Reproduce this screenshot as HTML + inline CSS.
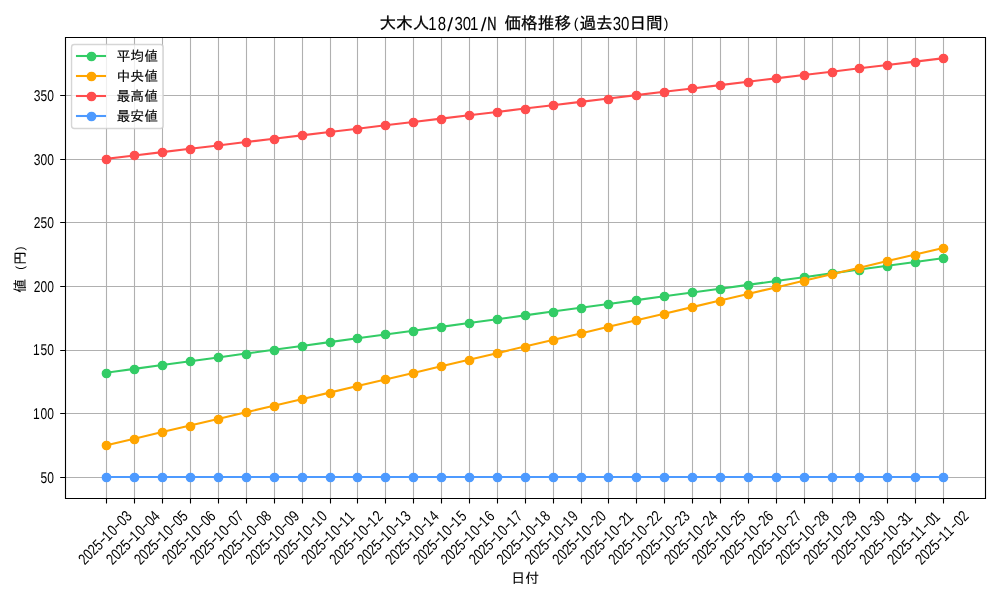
<!DOCTYPE html>
<html lang="ja"><head><meta charset="utf-8">
<title>大木人18/301/N 価格推移(過去30日間)</title>
<style>
html,body{margin:0;padding:0;background:#fff}
body{width:1000px;height:600px;overflow:hidden}
svg{display:block;will-change:transform}
text{fill:#000;white-space:pre}
.j{font-family:"Liberation Sans","IPAGothic",sans-serif;stroke:#000;stroke-width:0.12}
.n{font-family:"Liberation Sans",sans-serif;stroke:none;text-rendering:geometricPrecision}
.nb{font-family:"Liberation Sans",sans-serif;stroke:#000;stroke-width:0.35;text-rendering:geometricPrecision}
.grid path{stroke:#b0b0b0;stroke-width:1.11;fill:none}
.ax path,.ax rect{stroke:#000;stroke-width:1.11;fill:none}
.ln{fill:none;stroke-width:2.08;stroke-linejoin:round;stroke-linecap:square}
.mk circle{stroke-width:1.39}
</style></head><body>
<svg width="1000" height="600" viewBox="0 0 1000 600">
<rect width="1000" height="600" fill="#fff"/>
<g class="grid"><path d="M106.5 37.34V498M134.5 37.34V498M162.5 37.34V498M190.5 37.34V498M218.5 37.34V498M246.5 37.34V498M274.5 37.34V498M302.5 37.34V498M330.5 37.34V498M357.5 37.34V498M385.5 37.34V498M413.5 37.34V498M441.5 37.34V498M469.5 37.34V498M497.5 37.34V498M525.5 37.34V498M553.5 37.34V498M581.5 37.34V498M608.5 37.34V498M636.5 37.34V498M664.5 37.34V498M692.5 37.34V498M720.5 37.34V498M748.5 37.34V498M776.5 37.34V498M804.5 37.34V498M832.5 37.34V498M859.5 37.34V498M887.5 37.34V498M915.5 37.34V498M943.5 37.34V498M64.6 477.5H985M64.6 413.5H985M64.6 350.5H985M64.6 286.5H985M64.6 222.5H985M64.6 159.5H985M64.6 95.5H985"/></g>
<polyline class="ln" stroke="#33cc66" points="106.44,372.68 134.33,368.86 162.22,365.05 190.11,361.23 218,357.41 245.89,353.59 273.78,349.77 301.67,345.95 329.56,342.13 357.45,338.31 385.35,334.5 413.24,330.68 441.13,326.86 469.02,323.04 496.91,319.22 524.8,315.4 552.69,311.58 580.58,307.77 608.47,303.95 636.36,300.13 664.25,296.31 692.15,292.49 720.04,288.67 747.93,284.85 775.82,281.04 803.71,277.22 831.6,273.4 859.49,269.58 887.38,265.76 915.27,261.94 943.16,258.12"/>
<g class="mk" fill="#33cc66" stroke="#33cc66"><circle cx="106.5" cy="373.5" r="4.17"/><circle cx="134.5" cy="369.5" r="4.17"/><circle cx="162.5" cy="365.5" r="4.17"/><circle cx="190.5" cy="361.5" r="4.17"/><circle cx="218.5" cy="357.5" r="4.17"/><circle cx="246.5" cy="354.5" r="4.17"/><circle cx="274.5" cy="350.5" r="4.17"/><circle cx="302.5" cy="346.5" r="4.17"/><circle cx="330.5" cy="342.5" r="4.17"/><circle cx="357.5" cy="338.5" r="4.17"/><circle cx="385.5" cy="334.5" r="4.17"/><circle cx="413.5" cy="331.5" r="4.17"/><circle cx="441.5" cy="327.5" r="4.17"/><circle cx="469.5" cy="323.5" r="4.17"/><circle cx="497.5" cy="319.5" r="4.17"/><circle cx="525.5" cy="315.5" r="4.17"/><circle cx="553.5" cy="312.5" r="4.17"/><circle cx="581.5" cy="308.5" r="4.17"/><circle cx="608.5" cy="304.5" r="4.17"/><circle cx="636.5" cy="300.5" r="4.17"/><circle cx="664.5" cy="296.5" r="4.17"/><circle cx="692.5" cy="292.5" r="4.17"/><circle cx="720.5" cy="289.5" r="4.17"/><circle cx="748.5" cy="285.5" r="4.17"/><circle cx="776.5" cy="281.5" r="4.17"/><circle cx="804.5" cy="277.5" r="4.17"/><circle cx="832.5" cy="273.5" r="4.17"/><circle cx="859.5" cy="270.5" r="4.17"/><circle cx="887.5" cy="266.5" r="4.17"/><circle cx="915.5" cy="262.5" r="4.17"/><circle cx="943.5" cy="258.5" r="4.17"/></g>
<polyline class="ln" stroke="#ffa500" points="106.44,445.24 134.33,438.66 162.22,432.08 190.11,425.51 218,418.93 245.89,412.35 273.78,405.78 301.67,399.2 329.56,392.62 357.45,386.05 385.35,379.47 413.24,372.89 441.13,366.32 469.02,359.74 496.91,353.16 524.8,346.59 552.69,340.01 580.58,333.44 608.47,326.86 636.36,320.28 664.25,313.71 692.15,307.13 720.04,300.55 747.93,293.98 775.82,287.4 803.71,280.82 831.6,274.25 859.49,267.67 887.38,261.09 915.27,254.52 943.16,247.94"/>
<g class="mk" fill="#ffa500" stroke="#ffa500"><circle cx="106.5" cy="445.5" r="4.17"/><circle cx="134.5" cy="439.5" r="4.17"/><circle cx="162.5" cy="432.5" r="4.17"/><circle cx="190.5" cy="426.5" r="4.17"/><circle cx="218.5" cy="419.5" r="4.17"/><circle cx="246.5" cy="412.5" r="4.17"/><circle cx="274.5" cy="406.5" r="4.17"/><circle cx="302.5" cy="399.5" r="4.17"/><circle cx="330.5" cy="393.5" r="4.17"/><circle cx="357.5" cy="386.5" r="4.17"/><circle cx="385.5" cy="379.5" r="4.17"/><circle cx="413.5" cy="373.5" r="4.17"/><circle cx="441.5" cy="366.5" r="4.17"/><circle cx="469.5" cy="360.5" r="4.17"/><circle cx="497.5" cy="353.5" r="4.17"/><circle cx="525.5" cy="347.5" r="4.17"/><circle cx="553.5" cy="340.5" r="4.17"/><circle cx="581.5" cy="333.5" r="4.17"/><circle cx="608.5" cy="327.5" r="4.17"/><circle cx="636.5" cy="320.5" r="4.17"/><circle cx="664.5" cy="314.5" r="4.17"/><circle cx="692.5" cy="307.5" r="4.17"/><circle cx="720.5" cy="301.5" r="4.17"/><circle cx="748.5" cy="294.5" r="4.17"/><circle cx="776.5" cy="287.5" r="4.17"/><circle cx="804.5" cy="281.5" r="4.17"/><circle cx="832.5" cy="274.5" r="4.17"/><circle cx="859.5" cy="268.5" r="4.17"/><circle cx="887.5" cy="261.5" r="4.17"/><circle cx="915.5" cy="255.5" r="4.17"/><circle cx="943.5" cy="248.5" r="4.17"/></g>
<polyline class="ln" stroke="#ff4d4d" points="106.44,158.84 134.33,155.49 162.22,152.14 190.11,148.78 218,145.43 245.89,142.08 273.78,138.73 301.67,135.38 329.56,132.02 357.45,128.67 385.35,125.32 413.24,121.97 441.13,118.62 469.02,115.26 496.91,111.91 524.8,108.56 552.69,105.21 580.58,101.86 608.47,98.5 636.36,95.15 664.25,91.8 692.15,88.45 720.04,85.1 747.93,81.75 775.82,78.39 803.71,75.04 831.6,71.69 859.49,68.34 887.38,64.99 915.27,61.63 943.16,58.28"/>
<g class="mk" fill="#ff4d4d" stroke="#ff4d4d"><circle cx="106.5" cy="159.5" r="4.17"/><circle cx="134.5" cy="155.5" r="4.17"/><circle cx="162.5" cy="152.5" r="4.17"/><circle cx="190.5" cy="149.5" r="4.17"/><circle cx="218.5" cy="145.5" r="4.17"/><circle cx="246.5" cy="142.5" r="4.17"/><circle cx="274.5" cy="139.5" r="4.17"/><circle cx="302.5" cy="135.5" r="4.17"/><circle cx="330.5" cy="132.5" r="4.17"/><circle cx="357.5" cy="129.5" r="4.17"/><circle cx="385.5" cy="125.5" r="4.17"/><circle cx="413.5" cy="122.5" r="4.17"/><circle cx="441.5" cy="119.5" r="4.17"/><circle cx="469.5" cy="115.5" r="4.17"/><circle cx="497.5" cy="112.5" r="4.17"/><circle cx="525.5" cy="109.5" r="4.17"/><circle cx="553.5" cy="105.5" r="4.17"/><circle cx="581.5" cy="102.5" r="4.17"/><circle cx="608.5" cy="99.5" r="4.17"/><circle cx="636.5" cy="95.5" r="4.17"/><circle cx="664.5" cy="92.5" r="4.17"/><circle cx="692.5" cy="88.5" r="4.17"/><circle cx="720.5" cy="85.5" r="4.17"/><circle cx="748.5" cy="82.5" r="4.17"/><circle cx="776.5" cy="78.5" r="4.17"/><circle cx="804.5" cy="75.5" r="4.17"/><circle cx="832.5" cy="72.5" r="4.17"/><circle cx="859.5" cy="68.5" r="4.17"/><circle cx="887.5" cy="65.5" r="4.17"/><circle cx="915.5" cy="62.5" r="4.17"/><circle cx="943.5" cy="58.5" r="4.17"/></g>
<polyline class="ln" stroke="#4d9aff" points="106,477 134,477 162,477 190,477 218,477 246,477 274,477 302,477 330,477 357,477 385,477 413,477 441,477 469,477 497,477 525,477 553,477 581,477 608,477 636,477 664,477 692,477 720,477 748,477 776,477 804,477 832,477 859,477 887,477 915,477 943,477"/>
<g class="mk" fill="#4d9aff" stroke="#4d9aff"><circle cx="106.5" cy="477.5" r="4.17"/><circle cx="134.5" cy="477.5" r="4.17"/><circle cx="162.5" cy="477.5" r="4.17"/><circle cx="190.5" cy="477.5" r="4.17"/><circle cx="218.5" cy="477.5" r="4.17"/><circle cx="246.5" cy="477.5" r="4.17"/><circle cx="274.5" cy="477.5" r="4.17"/><circle cx="302.5" cy="477.5" r="4.17"/><circle cx="330.5" cy="477.5" r="4.17"/><circle cx="357.5" cy="477.5" r="4.17"/><circle cx="385.5" cy="477.5" r="4.17"/><circle cx="413.5" cy="477.5" r="4.17"/><circle cx="441.5" cy="477.5" r="4.17"/><circle cx="469.5" cy="477.5" r="4.17"/><circle cx="497.5" cy="477.5" r="4.17"/><circle cx="525.5" cy="477.5" r="4.17"/><circle cx="553.5" cy="477.5" r="4.17"/><circle cx="581.5" cy="477.5" r="4.17"/><circle cx="608.5" cy="477.5" r="4.17"/><circle cx="636.5" cy="477.5" r="4.17"/><circle cx="664.5" cy="477.5" r="4.17"/><circle cx="692.5" cy="477.5" r="4.17"/><circle cx="720.5" cy="477.5" r="4.17"/><circle cx="748.5" cy="477.5" r="4.17"/><circle cx="776.5" cy="477.5" r="4.17"/><circle cx="804.5" cy="477.5" r="4.17"/><circle cx="832.5" cy="477.5" r="4.17"/><circle cx="859.5" cy="477.5" r="4.17"/><circle cx="887.5" cy="477.5" r="4.17"/><circle cx="915.5" cy="477.5" r="4.17"/><circle cx="943.5" cy="477.5" r="4.17"/></g>
<g class="ax"><path d="M106.5 498.5v5.1M134.5 498.5v5.1M162.5 498.5v5.1M190.5 498.5v5.1M218.5 498.5v5.1M246.5 498.5v5.1M274.5 498.5v5.1M302.5 498.5v5.1M330.5 498.5v5.1M357.5 498.5v5.1M385.5 498.5v5.1M413.5 498.5v5.1M441.5 498.5v5.1M469.5 498.5v5.1M497.5 498.5v5.1M525.5 498.5v5.1M553.5 498.5v5.1M581.5 498.5v5.1M608.5 498.5v5.1M636.5 498.5v5.1M664.5 498.5v5.1M692.5 498.5v5.1M720.5 498.5v5.1M748.5 498.5v5.1M776.5 498.5v5.1M804.5 498.5v5.1M832.5 498.5v5.1M859.5 498.5v5.1M887.5 498.5v5.1M915.5 498.5v5.1M943.5 498.5v5.1M65.5 477.5h-5.3M65.5 413.5h-5.3M65.5 350.5h-5.3M65.5 286.5h-5.3M65.5 222.5h-5.3M65.5 159.5h-5.3M65.5 95.5h-5.3"/>
<path stroke-linecap="square" d="M65.5 37.5H985.5V498.5H65.5Z"/></g>
<text class="n" font-size="15.69" y="482.76"><tspan x="40.45" textLength="13.4" lengthAdjust="spacingAndGlyphs">50</tspan></text>
<text class="n" font-size="15.69" y="419.11"><tspan x="32.88" textLength="6.7" lengthAdjust="spacingAndGlyphs">1</tspan><tspan x="40.45" textLength="13.4" lengthAdjust="spacingAndGlyphs">00</tspan></text>
<text class="n" font-size="15.69" y="355.47"><tspan x="32.88" textLength="6.7" lengthAdjust="spacingAndGlyphs">1</tspan><tspan x="40.45" textLength="13.4" lengthAdjust="spacingAndGlyphs">50</tspan></text>
<text class="n" font-size="15.69" y="291.83"><tspan x="33.75" textLength="20.1" lengthAdjust="spacingAndGlyphs">200</tspan></text>
<text class="n" font-size="15.69" y="228.18"><tspan x="33.75" textLength="20.1" lengthAdjust="spacingAndGlyphs">250</tspan></text>
<text class="n" font-size="15.69" y="164.54"><tspan x="33.75" textLength="20.1" lengthAdjust="spacingAndGlyphs">300</tspan></text>
<text class="n" font-size="15.69" y="100.9"><tspan x="33.75" textLength="20.1" lengthAdjust="spacingAndGlyphs">350</tspan></text>
<text class="n" font-size="15.69" transform="translate(105.14 537.6) rotate(-45)" y="5.2"><tspan x="-34.1" textLength="27.28" lengthAdjust="spacingAndGlyphs">2025</tspan><tspan x="-6.82" dy="-1" textLength="6.82" lengthAdjust="spacingAndGlyphs">-</tspan><tspan x="-0.89" dy="1" textLength="6.82" lengthAdjust="spacingAndGlyphs">1</tspan><tspan x="6.82" textLength="6.82" lengthAdjust="spacingAndGlyphs">0</tspan><tspan x="13.64" dy="-1" textLength="6.82" lengthAdjust="spacingAndGlyphs">-</tspan><tspan x="20.46" dy="1" textLength="13.64" lengthAdjust="spacingAndGlyphs">03</tspan></text>
<text class="n" font-size="15.69" transform="translate(133.03 537.6) rotate(-45)" y="5.2"><tspan x="-34.1" textLength="27.28" lengthAdjust="spacingAndGlyphs">2025</tspan><tspan x="-6.82" dy="-1" textLength="6.82" lengthAdjust="spacingAndGlyphs">-</tspan><tspan x="-0.89" dy="1" textLength="6.82" lengthAdjust="spacingAndGlyphs">1</tspan><tspan x="6.82" textLength="6.82" lengthAdjust="spacingAndGlyphs">0</tspan><tspan x="13.64" dy="-1" textLength="6.82" lengthAdjust="spacingAndGlyphs">-</tspan><tspan x="20.46" dy="1" textLength="13.64" lengthAdjust="spacingAndGlyphs">04</tspan></text>
<text class="n" font-size="15.69" transform="translate(160.92 537.6) rotate(-45)" y="5.2"><tspan x="-34.1" textLength="27.28" lengthAdjust="spacingAndGlyphs">2025</tspan><tspan x="-6.82" dy="-1" textLength="6.82" lengthAdjust="spacingAndGlyphs">-</tspan><tspan x="-0.89" dy="1" textLength="6.82" lengthAdjust="spacingAndGlyphs">1</tspan><tspan x="6.82" textLength="6.82" lengthAdjust="spacingAndGlyphs">0</tspan><tspan x="13.64" dy="-1" textLength="6.82" lengthAdjust="spacingAndGlyphs">-</tspan><tspan x="20.46" dy="1" textLength="13.64" lengthAdjust="spacingAndGlyphs">05</tspan></text>
<text class="n" font-size="15.69" transform="translate(188.81 537.6) rotate(-45)" y="5.2"><tspan x="-34.1" textLength="27.28" lengthAdjust="spacingAndGlyphs">2025</tspan><tspan x="-6.82" dy="-1" textLength="6.82" lengthAdjust="spacingAndGlyphs">-</tspan><tspan x="-0.89" dy="1" textLength="6.82" lengthAdjust="spacingAndGlyphs">1</tspan><tspan x="6.82" textLength="6.82" lengthAdjust="spacingAndGlyphs">0</tspan><tspan x="13.64" dy="-1" textLength="6.82" lengthAdjust="spacingAndGlyphs">-</tspan><tspan x="20.46" dy="1" textLength="13.64" lengthAdjust="spacingAndGlyphs">06</tspan></text>
<text class="n" font-size="15.69" transform="translate(216.7 537.6) rotate(-45)" y="5.2"><tspan x="-34.1" textLength="27.28" lengthAdjust="spacingAndGlyphs">2025</tspan><tspan x="-6.82" dy="-1" textLength="6.82" lengthAdjust="spacingAndGlyphs">-</tspan><tspan x="-0.89" dy="1" textLength="6.82" lengthAdjust="spacingAndGlyphs">1</tspan><tspan x="6.82" textLength="6.82" lengthAdjust="spacingAndGlyphs">0</tspan><tspan x="13.64" dy="-1" textLength="6.82" lengthAdjust="spacingAndGlyphs">-</tspan><tspan x="20.46" dy="1" textLength="13.64" lengthAdjust="spacingAndGlyphs">07</tspan></text>
<text class="n" font-size="15.69" transform="translate(244.59 537.6) rotate(-45)" y="5.2"><tspan x="-34.1" textLength="27.28" lengthAdjust="spacingAndGlyphs">2025</tspan><tspan x="-6.82" dy="-1" textLength="6.82" lengthAdjust="spacingAndGlyphs">-</tspan><tspan x="-0.89" dy="1" textLength="6.82" lengthAdjust="spacingAndGlyphs">1</tspan><tspan x="6.82" textLength="6.82" lengthAdjust="spacingAndGlyphs">0</tspan><tspan x="13.64" dy="-1" textLength="6.82" lengthAdjust="spacingAndGlyphs">-</tspan><tspan x="20.46" dy="1" textLength="13.64" lengthAdjust="spacingAndGlyphs">08</tspan></text>
<text class="n" font-size="15.69" transform="translate(272.48 537.6) rotate(-45)" y="5.2"><tspan x="-34.1" textLength="27.28" lengthAdjust="spacingAndGlyphs">2025</tspan><tspan x="-6.82" dy="-1" textLength="6.82" lengthAdjust="spacingAndGlyphs">-</tspan><tspan x="-0.89" dy="1" textLength="6.82" lengthAdjust="spacingAndGlyphs">1</tspan><tspan x="6.82" textLength="6.82" lengthAdjust="spacingAndGlyphs">0</tspan><tspan x="13.64" dy="-1" textLength="6.82" lengthAdjust="spacingAndGlyphs">-</tspan><tspan x="20.46" dy="1" textLength="13.64" lengthAdjust="spacingAndGlyphs">09</tspan></text>
<text class="n" font-size="15.69" transform="translate(300.37 537.6) rotate(-45)" y="5.2"><tspan x="-34.1" textLength="27.28" lengthAdjust="spacingAndGlyphs">2025</tspan><tspan x="-6.82" dy="-1" textLength="6.82" lengthAdjust="spacingAndGlyphs">-</tspan><tspan x="-0.89" dy="1" textLength="6.82" lengthAdjust="spacingAndGlyphs">1</tspan><tspan x="6.82" textLength="6.82" lengthAdjust="spacingAndGlyphs">0</tspan><tspan x="13.64" dy="-1" textLength="6.82" lengthAdjust="spacingAndGlyphs">-</tspan><tspan x="19.57" dy="1" textLength="6.82" lengthAdjust="spacingAndGlyphs">1</tspan><tspan x="27.28" textLength="6.82" lengthAdjust="spacingAndGlyphs">0</tspan></text>
<text class="n" font-size="15.69" transform="translate(328.26 537.6) rotate(-45)" y="5.2"><tspan x="-34.1" textLength="27.28" lengthAdjust="spacingAndGlyphs">2025</tspan><tspan x="-6.82" dy="-1" textLength="6.82" lengthAdjust="spacingAndGlyphs">-</tspan><tspan x="-0.89" dy="1" textLength="6.82" lengthAdjust="spacingAndGlyphs">1</tspan><tspan x="6.82" textLength="6.82" lengthAdjust="spacingAndGlyphs">0</tspan><tspan x="13.64" dy="-1" textLength="6.82" lengthAdjust="spacingAndGlyphs">-</tspan><tspan x="19.57" dy="1" textLength="6.82" lengthAdjust="spacingAndGlyphs">1</tspan><tspan x="26.39" textLength="6.82" lengthAdjust="spacingAndGlyphs">1</tspan></text>
<text class="n" font-size="15.69" transform="translate(356.15 537.6) rotate(-45)" y="5.2"><tspan x="-34.1" textLength="27.28" lengthAdjust="spacingAndGlyphs">2025</tspan><tspan x="-6.82" dy="-1" textLength="6.82" lengthAdjust="spacingAndGlyphs">-</tspan><tspan x="-0.89" dy="1" textLength="6.82" lengthAdjust="spacingAndGlyphs">1</tspan><tspan x="6.82" textLength="6.82" lengthAdjust="spacingAndGlyphs">0</tspan><tspan x="13.64" dy="-1" textLength="6.82" lengthAdjust="spacingAndGlyphs">-</tspan><tspan x="19.57" dy="1" textLength="6.82" lengthAdjust="spacingAndGlyphs">1</tspan><tspan x="27.28" textLength="6.82" lengthAdjust="spacingAndGlyphs">2</tspan></text>
<text class="n" font-size="15.69" transform="translate(384.05 537.6) rotate(-45)" y="5.2"><tspan x="-34.1" textLength="27.28" lengthAdjust="spacingAndGlyphs">2025</tspan><tspan x="-6.82" dy="-1" textLength="6.82" lengthAdjust="spacingAndGlyphs">-</tspan><tspan x="-0.89" dy="1" textLength="6.82" lengthAdjust="spacingAndGlyphs">1</tspan><tspan x="6.82" textLength="6.82" lengthAdjust="spacingAndGlyphs">0</tspan><tspan x="13.64" dy="-1" textLength="6.82" lengthAdjust="spacingAndGlyphs">-</tspan><tspan x="19.57" dy="1" textLength="6.82" lengthAdjust="spacingAndGlyphs">1</tspan><tspan x="27.28" textLength="6.82" lengthAdjust="spacingAndGlyphs">3</tspan></text>
<text class="n" font-size="15.69" transform="translate(411.94 537.6) rotate(-45)" y="5.2"><tspan x="-34.1" textLength="27.28" lengthAdjust="spacingAndGlyphs">2025</tspan><tspan x="-6.82" dy="-1" textLength="6.82" lengthAdjust="spacingAndGlyphs">-</tspan><tspan x="-0.89" dy="1" textLength="6.82" lengthAdjust="spacingAndGlyphs">1</tspan><tspan x="6.82" textLength="6.82" lengthAdjust="spacingAndGlyphs">0</tspan><tspan x="13.64" dy="-1" textLength="6.82" lengthAdjust="spacingAndGlyphs">-</tspan><tspan x="19.57" dy="1" textLength="6.82" lengthAdjust="spacingAndGlyphs">1</tspan><tspan x="27.28" textLength="6.82" lengthAdjust="spacingAndGlyphs">4</tspan></text>
<text class="n" font-size="15.69" transform="translate(439.83 537.6) rotate(-45)" y="5.2"><tspan x="-34.1" textLength="27.28" lengthAdjust="spacingAndGlyphs">2025</tspan><tspan x="-6.82" dy="-1" textLength="6.82" lengthAdjust="spacingAndGlyphs">-</tspan><tspan x="-0.89" dy="1" textLength="6.82" lengthAdjust="spacingAndGlyphs">1</tspan><tspan x="6.82" textLength="6.82" lengthAdjust="spacingAndGlyphs">0</tspan><tspan x="13.64" dy="-1" textLength="6.82" lengthAdjust="spacingAndGlyphs">-</tspan><tspan x="19.57" dy="1" textLength="6.82" lengthAdjust="spacingAndGlyphs">1</tspan><tspan x="27.28" textLength="6.82" lengthAdjust="spacingAndGlyphs">5</tspan></text>
<text class="n" font-size="15.69" transform="translate(467.72 537.6) rotate(-45)" y="5.2"><tspan x="-34.1" textLength="27.28" lengthAdjust="spacingAndGlyphs">2025</tspan><tspan x="-6.82" dy="-1" textLength="6.82" lengthAdjust="spacingAndGlyphs">-</tspan><tspan x="-0.89" dy="1" textLength="6.82" lengthAdjust="spacingAndGlyphs">1</tspan><tspan x="6.82" textLength="6.82" lengthAdjust="spacingAndGlyphs">0</tspan><tspan x="13.64" dy="-1" textLength="6.82" lengthAdjust="spacingAndGlyphs">-</tspan><tspan x="19.57" dy="1" textLength="6.82" lengthAdjust="spacingAndGlyphs">1</tspan><tspan x="27.28" textLength="6.82" lengthAdjust="spacingAndGlyphs">6</tspan></text>
<text class="n" font-size="15.69" transform="translate(495.61 537.6) rotate(-45)" y="5.2"><tspan x="-34.1" textLength="27.28" lengthAdjust="spacingAndGlyphs">2025</tspan><tspan x="-6.82" dy="-1" textLength="6.82" lengthAdjust="spacingAndGlyphs">-</tspan><tspan x="-0.89" dy="1" textLength="6.82" lengthAdjust="spacingAndGlyphs">1</tspan><tspan x="6.82" textLength="6.82" lengthAdjust="spacingAndGlyphs">0</tspan><tspan x="13.64" dy="-1" textLength="6.82" lengthAdjust="spacingAndGlyphs">-</tspan><tspan x="19.57" dy="1" textLength="6.82" lengthAdjust="spacingAndGlyphs">1</tspan><tspan x="27.28" textLength="6.82" lengthAdjust="spacingAndGlyphs">7</tspan></text>
<text class="n" font-size="15.69" transform="translate(523.5 537.6) rotate(-45)" y="5.2"><tspan x="-34.1" textLength="27.28" lengthAdjust="spacingAndGlyphs">2025</tspan><tspan x="-6.82" dy="-1" textLength="6.82" lengthAdjust="spacingAndGlyphs">-</tspan><tspan x="-0.89" dy="1" textLength="6.82" lengthAdjust="spacingAndGlyphs">1</tspan><tspan x="6.82" textLength="6.82" lengthAdjust="spacingAndGlyphs">0</tspan><tspan x="13.64" dy="-1" textLength="6.82" lengthAdjust="spacingAndGlyphs">-</tspan><tspan x="19.57" dy="1" textLength="6.82" lengthAdjust="spacingAndGlyphs">1</tspan><tspan x="27.28" textLength="6.82" lengthAdjust="spacingAndGlyphs">8</tspan></text>
<text class="n" font-size="15.69" transform="translate(551.39 537.6) rotate(-45)" y="5.2"><tspan x="-34.1" textLength="27.28" lengthAdjust="spacingAndGlyphs">2025</tspan><tspan x="-6.82" dy="-1" textLength="6.82" lengthAdjust="spacingAndGlyphs">-</tspan><tspan x="-0.89" dy="1" textLength="6.82" lengthAdjust="spacingAndGlyphs">1</tspan><tspan x="6.82" textLength="6.82" lengthAdjust="spacingAndGlyphs">0</tspan><tspan x="13.64" dy="-1" textLength="6.82" lengthAdjust="spacingAndGlyphs">-</tspan><tspan x="19.57" dy="1" textLength="6.82" lengthAdjust="spacingAndGlyphs">1</tspan><tspan x="27.28" textLength="6.82" lengthAdjust="spacingAndGlyphs">9</tspan></text>
<text class="n" font-size="15.69" transform="translate(579.28 537.6) rotate(-45)" y="5.2"><tspan x="-34.1" textLength="27.28" lengthAdjust="spacingAndGlyphs">2025</tspan><tspan x="-6.82" dy="-1" textLength="6.82" lengthAdjust="spacingAndGlyphs">-</tspan><tspan x="-0.89" dy="1" textLength="6.82" lengthAdjust="spacingAndGlyphs">1</tspan><tspan x="6.82" textLength="6.82" lengthAdjust="spacingAndGlyphs">0</tspan><tspan x="13.64" dy="-1" textLength="6.82" lengthAdjust="spacingAndGlyphs">-</tspan><tspan x="20.46" dy="1" textLength="13.64" lengthAdjust="spacingAndGlyphs">20</tspan></text>
<text class="n" font-size="15.69" transform="translate(607.17 537.6) rotate(-45)" y="5.2"><tspan x="-34.1" textLength="27.28" lengthAdjust="spacingAndGlyphs">2025</tspan><tspan x="-6.82" dy="-1" textLength="6.82" lengthAdjust="spacingAndGlyphs">-</tspan><tspan x="-0.89" dy="1" textLength="6.82" lengthAdjust="spacingAndGlyphs">1</tspan><tspan x="6.82" textLength="6.82" lengthAdjust="spacingAndGlyphs">0</tspan><tspan x="13.64" dy="-1" textLength="6.82" lengthAdjust="spacingAndGlyphs">-</tspan><tspan x="20.46" dy="1" textLength="6.82" lengthAdjust="spacingAndGlyphs">2</tspan><tspan x="26.39" textLength="6.82" lengthAdjust="spacingAndGlyphs">1</tspan></text>
<text class="n" font-size="15.69" transform="translate(635.06 537.6) rotate(-45)" y="5.2"><tspan x="-34.1" textLength="27.28" lengthAdjust="spacingAndGlyphs">2025</tspan><tspan x="-6.82" dy="-1" textLength="6.82" lengthAdjust="spacingAndGlyphs">-</tspan><tspan x="-0.89" dy="1" textLength="6.82" lengthAdjust="spacingAndGlyphs">1</tspan><tspan x="6.82" textLength="6.82" lengthAdjust="spacingAndGlyphs">0</tspan><tspan x="13.64" dy="-1" textLength="6.82" lengthAdjust="spacingAndGlyphs">-</tspan><tspan x="20.46" dy="1" textLength="13.64" lengthAdjust="spacingAndGlyphs">22</tspan></text>
<text class="n" font-size="15.69" transform="translate(662.95 537.6) rotate(-45)" y="5.2"><tspan x="-34.1" textLength="27.28" lengthAdjust="spacingAndGlyphs">2025</tspan><tspan x="-6.82" dy="-1" textLength="6.82" lengthAdjust="spacingAndGlyphs">-</tspan><tspan x="-0.89" dy="1" textLength="6.82" lengthAdjust="spacingAndGlyphs">1</tspan><tspan x="6.82" textLength="6.82" lengthAdjust="spacingAndGlyphs">0</tspan><tspan x="13.64" dy="-1" textLength="6.82" lengthAdjust="spacingAndGlyphs">-</tspan><tspan x="20.46" dy="1" textLength="13.64" lengthAdjust="spacingAndGlyphs">23</tspan></text>
<text class="n" font-size="15.69" transform="translate(690.85 537.6) rotate(-45)" y="5.2"><tspan x="-34.1" textLength="27.28" lengthAdjust="spacingAndGlyphs">2025</tspan><tspan x="-6.82" dy="-1" textLength="6.82" lengthAdjust="spacingAndGlyphs">-</tspan><tspan x="-0.89" dy="1" textLength="6.82" lengthAdjust="spacingAndGlyphs">1</tspan><tspan x="6.82" textLength="6.82" lengthAdjust="spacingAndGlyphs">0</tspan><tspan x="13.64" dy="-1" textLength="6.82" lengthAdjust="spacingAndGlyphs">-</tspan><tspan x="20.46" dy="1" textLength="13.64" lengthAdjust="spacingAndGlyphs">24</tspan></text>
<text class="n" font-size="15.69" transform="translate(718.74 537.6) rotate(-45)" y="5.2"><tspan x="-34.1" textLength="27.28" lengthAdjust="spacingAndGlyphs">2025</tspan><tspan x="-6.82" dy="-1" textLength="6.82" lengthAdjust="spacingAndGlyphs">-</tspan><tspan x="-0.89" dy="1" textLength="6.82" lengthAdjust="spacingAndGlyphs">1</tspan><tspan x="6.82" textLength="6.82" lengthAdjust="spacingAndGlyphs">0</tspan><tspan x="13.64" dy="-1" textLength="6.82" lengthAdjust="spacingAndGlyphs">-</tspan><tspan x="20.46" dy="1" textLength="13.64" lengthAdjust="spacingAndGlyphs">25</tspan></text>
<text class="n" font-size="15.69" transform="translate(746.63 537.6) rotate(-45)" y="5.2"><tspan x="-34.1" textLength="27.28" lengthAdjust="spacingAndGlyphs">2025</tspan><tspan x="-6.82" dy="-1" textLength="6.82" lengthAdjust="spacingAndGlyphs">-</tspan><tspan x="-0.89" dy="1" textLength="6.82" lengthAdjust="spacingAndGlyphs">1</tspan><tspan x="6.82" textLength="6.82" lengthAdjust="spacingAndGlyphs">0</tspan><tspan x="13.64" dy="-1" textLength="6.82" lengthAdjust="spacingAndGlyphs">-</tspan><tspan x="20.46" dy="1" textLength="13.64" lengthAdjust="spacingAndGlyphs">26</tspan></text>
<text class="n" font-size="15.69" transform="translate(774.52 537.6) rotate(-45)" y="5.2"><tspan x="-34.1" textLength="27.28" lengthAdjust="spacingAndGlyphs">2025</tspan><tspan x="-6.82" dy="-1" textLength="6.82" lengthAdjust="spacingAndGlyphs">-</tspan><tspan x="-0.89" dy="1" textLength="6.82" lengthAdjust="spacingAndGlyphs">1</tspan><tspan x="6.82" textLength="6.82" lengthAdjust="spacingAndGlyphs">0</tspan><tspan x="13.64" dy="-1" textLength="6.82" lengthAdjust="spacingAndGlyphs">-</tspan><tspan x="20.46" dy="1" textLength="13.64" lengthAdjust="spacingAndGlyphs">27</tspan></text>
<text class="n" font-size="15.69" transform="translate(802.41 537.6) rotate(-45)" y="5.2"><tspan x="-34.1" textLength="27.28" lengthAdjust="spacingAndGlyphs">2025</tspan><tspan x="-6.82" dy="-1" textLength="6.82" lengthAdjust="spacingAndGlyphs">-</tspan><tspan x="-0.89" dy="1" textLength="6.82" lengthAdjust="spacingAndGlyphs">1</tspan><tspan x="6.82" textLength="6.82" lengthAdjust="spacingAndGlyphs">0</tspan><tspan x="13.64" dy="-1" textLength="6.82" lengthAdjust="spacingAndGlyphs">-</tspan><tspan x="20.46" dy="1" textLength="13.64" lengthAdjust="spacingAndGlyphs">28</tspan></text>
<text class="n" font-size="15.69" transform="translate(830.3 537.6) rotate(-45)" y="5.2"><tspan x="-34.1" textLength="27.28" lengthAdjust="spacingAndGlyphs">2025</tspan><tspan x="-6.82" dy="-1" textLength="6.82" lengthAdjust="spacingAndGlyphs">-</tspan><tspan x="-0.89" dy="1" textLength="6.82" lengthAdjust="spacingAndGlyphs">1</tspan><tspan x="6.82" textLength="6.82" lengthAdjust="spacingAndGlyphs">0</tspan><tspan x="13.64" dy="-1" textLength="6.82" lengthAdjust="spacingAndGlyphs">-</tspan><tspan x="20.46" dy="1" textLength="13.64" lengthAdjust="spacingAndGlyphs">29</tspan></text>
<text class="n" font-size="15.69" transform="translate(858.19 537.6) rotate(-45)" y="5.2"><tspan x="-34.1" textLength="27.28" lengthAdjust="spacingAndGlyphs">2025</tspan><tspan x="-6.82" dy="-1" textLength="6.82" lengthAdjust="spacingAndGlyphs">-</tspan><tspan x="-0.89" dy="1" textLength="6.82" lengthAdjust="spacingAndGlyphs">1</tspan><tspan x="6.82" textLength="6.82" lengthAdjust="spacingAndGlyphs">0</tspan><tspan x="13.64" dy="-1" textLength="6.82" lengthAdjust="spacingAndGlyphs">-</tspan><tspan x="20.46" dy="1" textLength="13.64" lengthAdjust="spacingAndGlyphs">30</tspan></text>
<text class="n" font-size="15.69" transform="translate(886.08 537.6) rotate(-45)" y="5.2"><tspan x="-34.1" textLength="27.28" lengthAdjust="spacingAndGlyphs">2025</tspan><tspan x="-6.82" dy="-1" textLength="6.82" lengthAdjust="spacingAndGlyphs">-</tspan><tspan x="-0.89" dy="1" textLength="6.82" lengthAdjust="spacingAndGlyphs">1</tspan><tspan x="6.82" textLength="6.82" lengthAdjust="spacingAndGlyphs">0</tspan><tspan x="13.64" dy="-1" textLength="6.82" lengthAdjust="spacingAndGlyphs">-</tspan><tspan x="20.46" dy="1" textLength="6.82" lengthAdjust="spacingAndGlyphs">3</tspan><tspan x="26.39" textLength="6.82" lengthAdjust="spacingAndGlyphs">1</tspan></text>
<text class="n" font-size="15.69" transform="translate(913.97 537.6) rotate(-45)" y="5.2"><tspan x="-34.1" textLength="27.28" lengthAdjust="spacingAndGlyphs">2025</tspan><tspan x="-6.82" dy="-1" textLength="6.82" lengthAdjust="spacingAndGlyphs">-</tspan><tspan x="-0.89" dy="1" textLength="6.82" lengthAdjust="spacingAndGlyphs">1</tspan><tspan x="5.93" textLength="6.82" lengthAdjust="spacingAndGlyphs">1</tspan><tspan x="13.64" dy="-1" textLength="6.82" lengthAdjust="spacingAndGlyphs">-</tspan><tspan x="20.46" dy="1" textLength="6.82" lengthAdjust="spacingAndGlyphs">0</tspan><tspan x="26.39" textLength="6.82" lengthAdjust="spacingAndGlyphs">1</tspan></text>
<text class="n" font-size="15.69" transform="translate(941.86 537.6) rotate(-45)" y="5.2"><tspan x="-34.1" textLength="27.28" lengthAdjust="spacingAndGlyphs">2025</tspan><tspan x="-6.82" dy="-1" textLength="6.82" lengthAdjust="spacingAndGlyphs">-</tspan><tspan x="-0.89" dy="1" textLength="6.82" lengthAdjust="spacingAndGlyphs">1</tspan><tspan x="5.93" textLength="6.82" lengthAdjust="spacingAndGlyphs">1</tspan><tspan x="13.64" dy="-1" textLength="6.82" lengthAdjust="spacingAndGlyphs">-</tspan><tspan x="20.46" dy="1" textLength="13.64" lengthAdjust="spacingAndGlyphs">02</tspan></text>
<text class="j" font-size="13.89" x="511.36" y="583.2">日付</text>
<text class="j" font-size="13.89" transform="translate(25.2 268.5) rotate(-90)" y="0"><tspan x="-24.31">値</tspan><tspan class="n" x="-10.42" textLength="6.94" lengthAdjust="spacingAndGlyphs"> </tspan><tspan class="n" font-size="11.7" x="-1.2" dy="-1.25">(</tspan><tspan x="3.47" dy="1.25">円</tspan><tspan class="n" font-size="11.7" x="18.14" dy="-1.25">)</tspan></text>
<text class="j" style="stroke-width:0.3" font-size="16.67" y="29.07"><tspan x="379.42">大木人</tspan><tspan class="n" font-size="18.83" x="428.33" dy="0.8" textLength="8.33" lengthAdjust="spacingAndGlyphs">1</tspan><tspan class="n" font-size="18.83" x="437.75" textLength="8.33" lengthAdjust="spacingAndGlyphs">8</tspan><tspan class="n" font-size="18.83" x="447.32" dy="1" textLength="5.86" lengthAdjust="spacingAndGlyphs">/</tspan><tspan class="n" font-size="18.83" x="454.42" dy="-1" textLength="16.67" lengthAdjust="spacingAndGlyphs">30</tspan><tspan class="n" font-size="18.83" x="470" textLength="8.33" lengthAdjust="spacingAndGlyphs">1</tspan><tspan class="n" font-size="18.83" x="480.65" dy="1" textLength="5.86" lengthAdjust="spacingAndGlyphs">/</tspan><tspan class="nb" font-size="18.83" x="487.32" dy="-1" textLength="9.2" lengthAdjust="spacingAndGlyphs">N</tspan><tspan class="n" font-size="18.83" x="496.08" textLength="8.33" lengthAdjust="spacingAndGlyphs"> </tspan><tspan x="504.42" dy="-0.8">価格推移</tspan><tspan class="n" font-size="14" x="573.82" dy="-1.5">(</tspan><tspan x="579.42" dy="1.5">過去</tspan><tspan class="n" font-size="18.83" x="612.75" dy="0.8" textLength="16.67" lengthAdjust="spacingAndGlyphs">30</tspan><tspan x="629.42" dy="-0.8">日間</tspan><tspan class="n" font-size="14" x="663.69" dy="-1.5">)</tspan></text>
<rect x="71.55" y="44.45" width="91.62" height="84.1" rx="2.78" fill="#fff" fill-opacity="0.8" stroke="#ccc" stroke-opacity="0.8" stroke-width="1.39"/>
<path class="ln" stroke="#33cc66" d="M77 56H105"/>
<g class="mk" fill="#33cc66" stroke="#33cc66"><circle cx="91.5" cy="56.5" r="4.17"/></g>
<text class="j" font-size="13.89" x="116.39" y="60.96">平均値</text>
<path class="ln" stroke="#ffa500" d="M77 76H105"/>
<g class="mk" fill="#ffa500" stroke="#ffa500"><circle cx="91.5" cy="76.5" r="4.17"/></g>
<text class="j" font-size="13.89" x="116.39" y="80.9">中央値</text>
<path class="ln" stroke="#ff4d4d" d="M77 96H105"/>
<g class="mk" fill="#ff4d4d" stroke="#ff4d4d"><circle cx="91.5" cy="96.5" r="4.17"/></g>
<text class="j" font-size="13.89" x="116.39" y="100.89">最高値</text>
<path class="ln" stroke="#4d9aff" d="M77 116H105"/>
<g class="mk" fill="#4d9aff" stroke="#4d9aff"><circle cx="91.5" cy="116.5" r="4.17"/></g>
<text class="j" font-size="13.89" x="116.39" y="121.03">最安値</text>
</svg></body></html>
